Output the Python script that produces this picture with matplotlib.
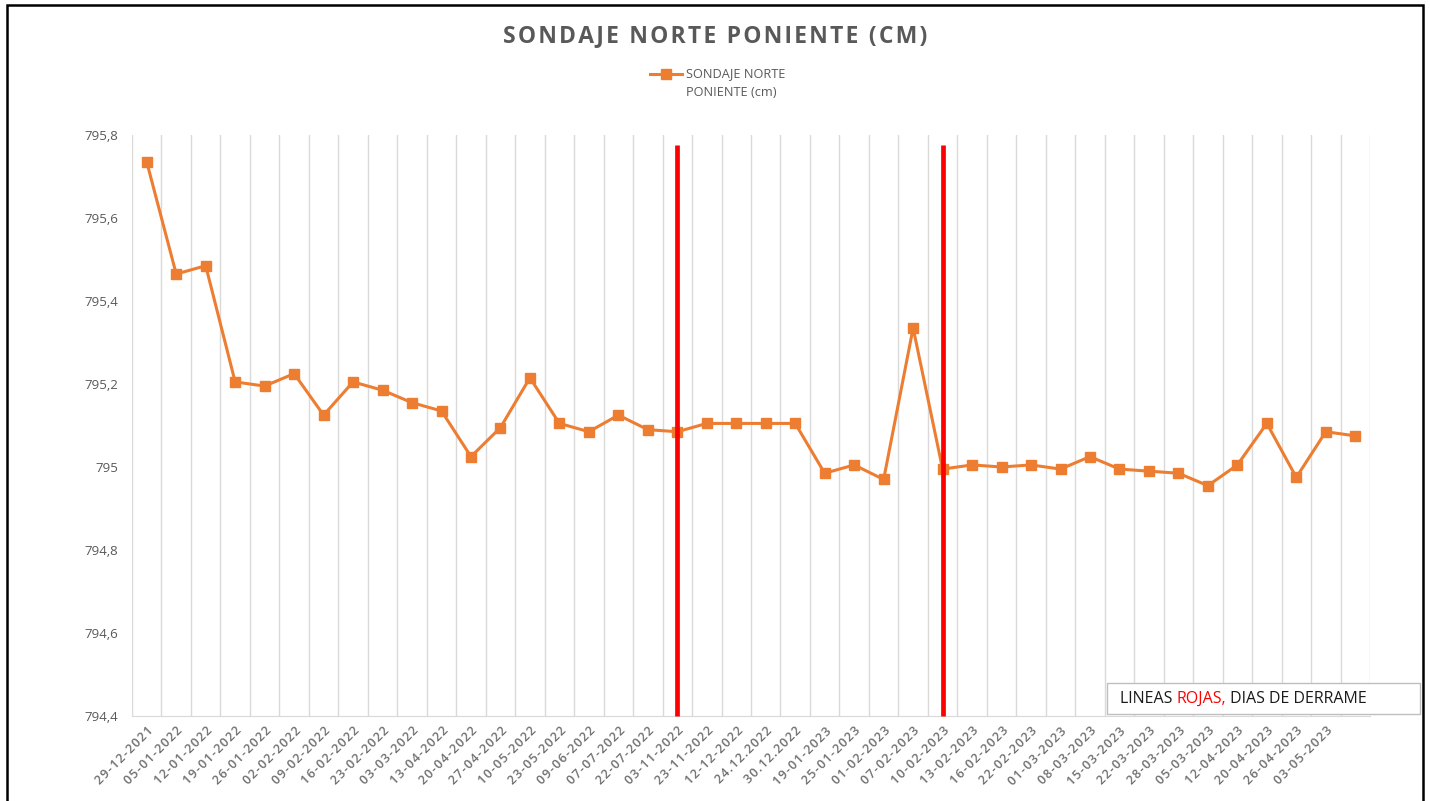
import matplotlib
matplotlib.use("Agg")
import matplotlib.pyplot as plt
from matplotlib.lines import Line2D
from matplotlib.patches import Rectangle
from matplotlib.text import Annotation
import numpy as np

# fechas de medicion (la ultima categoria no tiene etiqueta)
fechas = ['29-12-2021', '05-01-2022', '12-01-2022', '19-01-2022', '26-01-2022',
          '02-02-2022', '09-02-2022', '16-02-2022', '23-02-2022', '03-03-2022',
          '13-04-2022', '20-04-2022', '27-04-2022', '10-05-2022', '23-05-2022',
          '09-06-2022', '07-07-2022', '22-07-2022', '03-11-2022', '23-11-2022',
          '12-12-2022', '24.12.2022', '30.12.2022', '19-01-2023', '25-01-2023',
          '01-02-2023', '07-02-2023', '10-02-2023', '13-02-2023', '16-02-2023',
          '22-02-2023', '01-03-2023', '08-03-2023', '15-03-2023', '22-03-2023',
          '28-03-2023', '05-03-2023', '12-04-2023', '20-04-2023', '26-04-2023',
          '03-05-2023', '']

sondaje = [795.735, 795.465, 795.485, 795.205, 795.195, 795.225, 795.125, 795.205,
           795.185, 795.155, 795.135, 795.025, 795.095, 795.215, 795.105, 795.085,
           795.125, 795.090, 795.085, 795.105, 795.105, 795.105, 795.105, 794.985,
           795.005, 794.970, 795.335, 794.995, 795.005, 795.000, 795.005, 794.995,
           795.025, 794.995, 794.990, 794.985, 794.955, 795.005, 795.105, 794.975,
           795.085, 795.075]

dias_derrame = ['03-11-2022', '10-02-2023']
tope_linea_roja = 795.775

y_ticks = [794.4, 794.6, 794.8, 795.0, 795.2, 795.4, 795.6, 795.8]

gris = '#595959'
naranja = '#ED7D31'
plt.rcParams['font.family'] = ['Open Sans', 'DejaVu Sans']

HS = '\u200a'  # espacio fino para imitar el espaciado de Excel


def espaciar(s):
    return HS.join(s)


W, H = 1430, 801
fig = plt.figure(figsize=(W / 100, H / 100), dpi=100)
ax = fig.add_axes([132 / W, 1 - 716 / H, (1370 - 132) / W, (716 - 135) / H])

x = np.arange(len(sondaje))
ax.plot(x, sondaje, color=naranja, lw=2.2, marker='s', ms=7, zorder=3)

for d in dias_derrame:
    i = fechas.index(d)
    ax.plot([i, i], [y_ticks[0], tope_linea_roja], color='#ff0000', lw=3.4, zorder=4,
            solid_capstyle='butt', clip_on=False)

ax.set_xlim(-0.5, len(sondaje) - 0.5)
ax.set_ylim(y_ticks[0], y_ticks[-1])

ax.set_xticks(x)
ax.set_xticklabels([espaciar(f) for f in fechas], rotation=45, ha='right',
                   rotation_mode='anchor', fontsize=9, fontweight=600, color='#6f6f6f')
ax.set_xticks(np.arange(-0.5, len(sondaje)), minor=True)
ax.grid(True, which='minor', axis='x', color='#d9d9d9', lw=1)
ax.grid(False, which='major')
ax.tick_params(axis='x', which='both', length=0, pad=6)

ax.set_yticks(y_ticks)
ax.set_yticklabels([f'{v:g}'.replace('.', ',') for v in y_ticks], fontsize=9.5, color=gris)
ax.tick_params(axis='y', length=0, pad=10)

for s in ['left', 'right', 'top']:
    ax.spines[s].set_visible(False)
ax.spines['bottom'].set_color('#d9d9d9')

# titulo
fig.text(0.5, 1 - 36 / H, espaciar('SONDAJE NORTE PONIENTE (CM)'), ha='center', va='center',
         fontsize=16.5, fontweight='bold', color=gris)

# leyenda
fig.add_artist(Line2D([650 / W, 666 / W, 682 / W], [1 - 74 / H] * 3, color=naranja, lw=2.2,
                      marker='s', ms=7, markevery=[1]))
fig.text(686 / W, 1 - 74 / H, 'SONDAJE NORTE', ha='left', va='center', fontsize=9.2, color=gris)
fig.text(686 / W, 1 - 93 / H, 'PONIENTE (cm)', ha='left', va='center', fontsize=9.2, color=gris)

# nota
fig.add_artist(Rectangle((1107 / W, 1 - 714 / H), (1420 - 1107) / W, 31 / H,
                         facecolor='white', edgecolor='#bfbfbf', lw=1, zorder=5))
t1 = fig.text(1120 / W, 1 - 699 / H, 'LINEAS ', ha='left', va='center', fontsize=11.5,
              color='#1a1a1a', zorder=6)
a2 = Annotation('ROJAS,', xy=(1, 0.5), xycoords=t1, va='center', ha='left',
                fontsize=11.5, color='#ff0000', zorder=6, annotation_clip=False)
fig.add_artist(a2)
a3 = Annotation(' DIAS DE DERRAME', xy=(1, 0.5), xycoords=a2, va='center', ha='left',
                fontsize=11.5, color='#1a1a1a', zorder=6, annotation_clip=False)
fig.add_artist(a3)

# marco negro
fig.add_artist(Rectangle((6.5 / W, -0.1), (1423 - 6.5) / W, 1.1 - 5.5 / H,
                         fill=False, edgecolor='black', lw=1.8))

fig.savefig('out.png', dpi=100, facecolor='white')
